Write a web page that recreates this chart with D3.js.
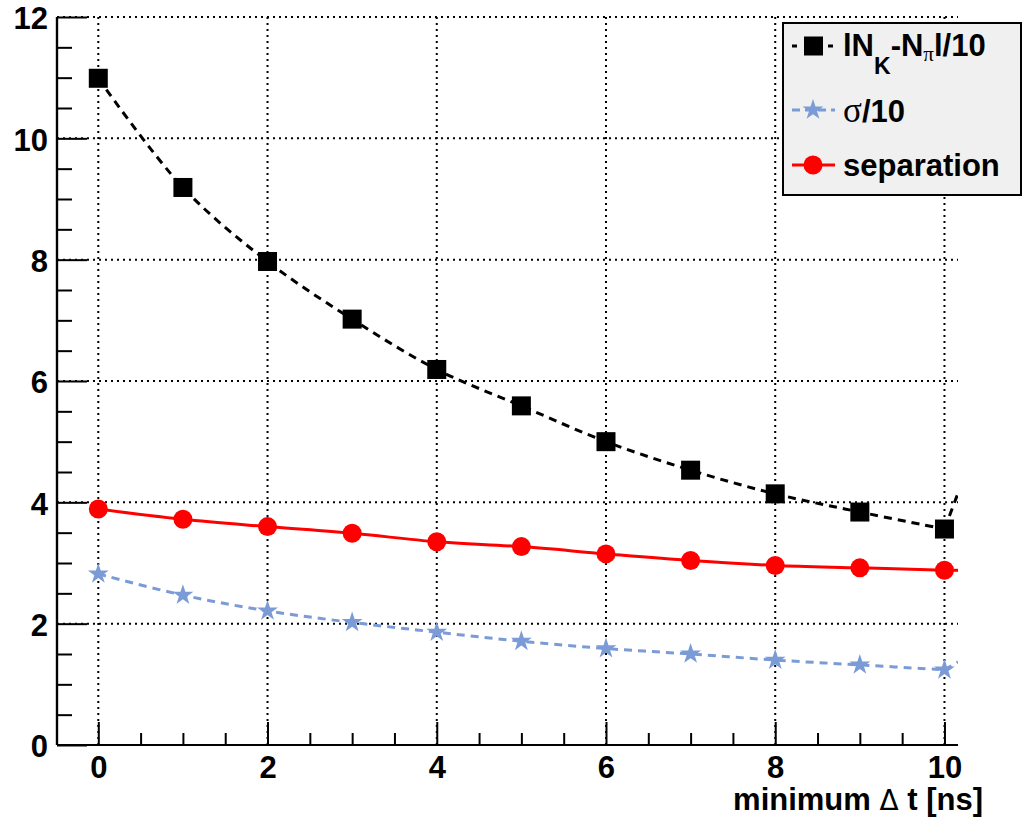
<!DOCTYPE html>
<html>
<head>
<meta charset="utf-8">
<script src="https://cdn.jsdelivr.net/npm/d3@7"></script>
<style>
  body { margin: 0; background: #fff; }
  text { font-family: "Liberation Sans", Arial, Helvetica, sans-serif; font-weight: bold; }
</style>
</head>
<body>
<svg id="chart" width="1023" height="826"></svg>
<script>
// minimum delta t [ns]
var dtValues = [0, 1, 2, 3, 4, 5, 6, 7, 8, 9, 10];
// |N_K - N_pi| / 10
var diffValues = [10.99, 9.19, 7.97, 7.02, 6.19, 5.59, 5.0, 4.53, 4.14, 3.84, 3.56];
// sigma / 10
var sigmaValues = [2.82, 2.47, 2.21, 2.02, 1.86, 1.71, 1.59, 1.50, 1.40, 1.32, 1.24];
// separation
var sepValues = [3.89, 3.72, 3.60, 3.49, 3.35, 3.27, 3.15, 3.04, 2.96, 2.92, 2.88];
// where each smoothed curve leaves the frame on the right (x = 10.16)
var tailX = 10.16;
var tailValues = { diff: 4.15, sigma: 1.37, sep: 2.88 };

var xMajorTicks = [0, 2, 4, 6, 8, 10];
var yMajorTicks = [0, 2, 4, 6, 8, 10, 12];

var svg = d3.select("#chart");

// plot frame
var frame = { left: 57, right: 958, top: 17, bottom: 745 };

var x = d3.scaleLinear()
    .domain([-0.488, 10.16])
    .range([frame.left, frame.right]);

var y = d3.scaleLinear()
    .domain([0, 12])
    .range([frame.bottom, frame.top]);

var black = "#000000", red = "#ff0000", blue = "#7b9bd6";

// gridlines
var grid = svg.append("g").attr("class", "grid");
grid.selectAll(".vgrid")
    .data(xMajorTicks).enter()
    .append("line")
    .attr("x1", d => x(d)).attr("x2", d => x(d))
    .attr("y1", frame.top).attr("y2", frame.bottom)
    .style("stroke", black)
    .style("stroke-width", 2)
    .style("stroke-dasharray", "2,4");
grid.selectAll(".hgrid")
    .data(yMajorTicks).enter()
    .append("line")
    .attr("x1", frame.left).attr("x2", frame.right)
    .attr("y1", d => y(d)).attr("y2", d => y(d))
    .style("stroke", black)
    .style("stroke-width", 2)
    .style("stroke-dasharray", "2,4");

// axes (ticks point into the plot, ROOT style)
var xMinor = d3.range(0, 10.2, 0.5).filter(v => v % 2 !== 0);
var yMinor = d3.range(0, 12, 0.5).filter(v => v % 2 !== 0);

var gx = svg.append("g")
    .attr("class", "axis axis--x")
    .attr("transform", "translate(0," + frame.bottom + ")");
gx.append("g")
    .call(d3.axisBottom(x).tickValues(xMinor).tickSize(-12).tickFormat(""));
gx.append("g")
    .call(d3.axisBottom(x).tickValues(xMajorTicks).tickSize(-23).tickPadding(10).tickFormat(d3.format("d")));

var gy = svg.append("g")
    .attr("class", "axis axis--y")
    .attr("transform", "translate(" + frame.left + ",0)");
gy.append("g")
    .call(d3.axisLeft(y).tickValues(yMinor).tickSize(-15).tickFormat(""));
gy.append("g")
    .call(d3.axisLeft(y).tickValues(yMajorTicks).tickSize(-30).tickPadding(9).tickFormat(d3.format("d")));

svg.selectAll(".axis .domain")
    .attr("d", function() {
        return this.parentNode.parentNode.classList.contains("axis--x")
            ? "M" + frame.left + ",0H" + frame.right
            : "M0," + frame.bottom + "V" + frame.top;
    })
    .style("stroke", black)
    .style("stroke-width", 2.2);
svg.selectAll(".axis .tick line")
    .style("stroke", black)
    .style("stroke-width", 2);
svg.selectAll(".axis text")
    .attr("fill", black)
    .style("font-size", "31px")
    .style("font-family", "Liberation Sans, Arial, sans-serif")
    .style("font-weight", "bold");
gx.selectAll("text").attr("dy", "0.74em");
gy.selectAll("text").attr("dy", "0.38em");

// axis title
svg.append("text")
    .attr("x", 983)
    .attr("y", 810)
    .attr("text-anchor", "end")
    .style("font-size", "31px")
    .text("minimum ")
    .append("tspan")
    .style("font-weight", "normal")
    .style("font-family", "DejaVu Sans, sans-serif")
    .style("font-size", "28px")
    .text("\u0394")
    .select(function() { return this.parentNode; })
    .append("tspan")
    .text(" t [ns]");

// curves
var pts = function(vals) { return dtValues.map((d, i) => [d, vals[i]]); };
var curveFn = d3.line()
    .x(d => x(d[0]))
    .y(d => y(d[1]))
    .curve(d3.curveCatmullRom);
var tailFn = d3.line()
    .x(d => x(d[0]))
    .y(d => y(d[1]));

svg.append("defs").append("clipPath").attr("id", "clip")
    .append("rect")
    .attr("x", frame.left).attr("y", frame.top)
    .attr("width", frame.right - frame.left)
    .attr("height", frame.bottom - frame.top);

var curves = svg.append("g").attr("clip-path", "url(#clip)");

var series = [
    { key: "diff", vals: diffValues, color: black, dash: "8,6" },
    { key: "sigma", vals: sigmaValues, color: blue, dash: "8,6" },
    { key: "sep", vals: sepValues, color: red, dash: null }
];

series.forEach(s => {
    var p = pts(s.vals);
    curves.append("path")
        .attr("d", curveFn(p))
        .style("fill", "none")
        .style("stroke", s.color)
        .style("stroke-width", 3)
        .style("stroke-dasharray", s.dash);
    curves.append("path")
        .attr("d", tailFn([p[p.length - 1], [tailX, tailValues[s.key]]]))
        .style("fill", "none")
        .style("stroke", s.color)
        .style("stroke-width", 3)
        .style("stroke-dasharray", s.dash);
});

// markers
svg.append("g").selectAll(".sep-marker")
    .data(pts(sepValues)).enter()
    .append("circle")
    .attr("cx", d => x(d[0]))
    .attr("cy", d => y(d[1]))
    .attr("r", 9.5)
    .style("fill", red);

svg.append("g").selectAll(".sigma-marker")
    .data(pts(sigmaValues)).enter()
    .append("path")
    .attr("transform", d => "translate(" + x(d[0]) + "," + y(d[1]) + ")")
    .attr("d", d3.symbol().type(d3.symbolStar).size(135))
    .style("fill", blue);

svg.append("g").selectAll(".diff-marker")
    .data(pts(diffValues)).enter()
    .append("rect")
    .attr("x", d => x(d[0]) - 9.5)
    .attr("y", d => y(d[1]) - 9.5)
    .attr("width", 19)
    .attr("height", 19)
    .style("fill", black);

// legend
var legend = svg.append("g").attr("class", "legend");
legend.append("rect")
    .attr("x", 783).attr("y", 23)
    .attr("width", 238).attr("height", 172)
    .style("fill", "#f0f0f0")
    .style("stroke", black)
    .style("stroke-width", 2);

var rows = [
    { cy: 46, color: black, dash: "5,7", marker: "square" },
    { cy: 110, color: blue, dash: "8,5", marker: "star" },
    { cy: 165, color: red, dash: null, marker: "circle" }
];
rows.forEach(r => {
    legend.append("line")
        .attr("x1", 792).attr("x2", 835)
        .attr("y1", r.cy).attr("y2", r.cy)
        .style("stroke", r.color)
        .style("stroke-width", 3)
        .style("stroke-dasharray", r.dash);
    if (r.marker === "square") {
        legend.append("rect")
            .attr("x", 804).attr("y", r.cy - 9.5)
            .attr("width", 19).attr("height", 19)
            .style("fill", r.color);
    } else if (r.marker === "star") {
        legend.append("path")
            .attr("transform", "translate(813," + r.cy + ")")
            .attr("d", d3.symbol().type(d3.symbolStar).size(135))
            .style("fill", r.color);
    } else {
        legend.append("circle")
            .attr("cx", 813).attr("cy", r.cy).attr("r", 9.5)
            .style("fill", r.color);
    }
});

var t1 = legend.append("text").attr("x", 843).attr("y", 56).style("font-size", "31px");
t1.append("tspan").text("lN");
t1.append("tspan").attr("dy", 18).style("font-size", "23px").text("K");
t1.append("tspan").attr("dy", -18).text("-N");
t1.append("tspan").attr("dy", 5).style("font-size", "21px")
    .style("font-weight", "normal").style("font-family", "Liberation Serif, serif").text("\u03c0");
t1.append("tspan").attr("dy", -5).text("l/10");

var t2 = legend.append("text").attr("x", 843).attr("y", 122).style("font-size", "31px");
t2.append("tspan").style("font-weight", "normal")
    .style("font-family", "Liberation Serif, serif").style("font-size", "35px").text("\u03c3");
t2.append("tspan").text("/10");

legend.append("text").attr("x", 843).attr("y", 176).style("font-size", "31px").text("separation");
</script>
</body>
</html>
